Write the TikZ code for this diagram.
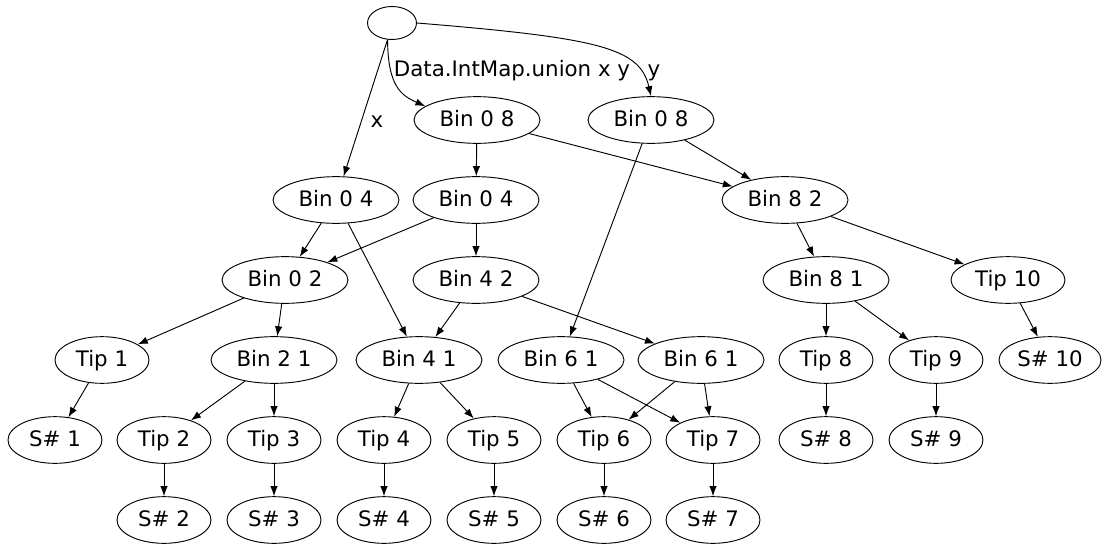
\documentclass[tikz,border=0pt]{standalone}
\usepackage{fontspec}
\setmainfont{DejaVu Sans}
\usetikzlibrary{shapes,arrows.meta}

\begin{document}
\begin{tikzpicture}[x=0.75pt,y=-0.75pt,font=\fontsize{16}{19}\selectfont,
        every node/.style={inner sep=0pt,text height=12pt,text depth=3pt},
        binnode/.style={draw,ellipse,line width=0.7pt,minimum width=94.5pt,minimum height=35pt},
        tipnode/.style={draw,ellipse,line width=0.7pt,minimum width=70.5pt,minimum height=35pt},
        link/.style={-{Latex[length=7.5pt,width=5.5pt]},line width=0.7pt}]
        \useasboundingbox (0,0) rectangle (1103,543);
        \node[draw,ellipse,line width=0.7pt,minimum width=36.75pt,minimum height=24.75pt] (root) at (392,23) {};
        \node[binnode] (a08) at (477,120) {Bin 0 8};
        \node[binnode] (b08) at (651,120) {Bin 0 8};
        \node[binnode] (l04) at (336,200) {Bin 0 4};
        \node[binnode] (r04) at (476,200) {Bin 0 4};
        \node[binnode] (b82) at (785,200) {Bin 8 2};
        \node[binnode] (b02) at (285,280) {Bin 0 2};
        \node[binnode] (b42) at (476,280) {Bin 4 2};
        \node[binnode] (b81) at (826,280) {Bin 8 1};
        \node[tipnode,minimum width=85.5pt] (t10) at (1008,280) {Tip 10};
        \node[tipnode] (t1) at (102,360) {Tip 1};
        \node[binnode] (b21) at (274,360) {Bin 2 1};
        \node[binnode] (b41) at (419,360) {Bin 4 1};
        \node[binnode] (b61l) at (561,360) {Bin 6 1};
        \node[binnode] (b61r) at (701,360) {Bin 6 1};
        \node[tipnode] (t8) at (826,360) {Tip 8};
        \node[tipnode] (t9) at (936,360) {Tip 9};
        \node[tipnode,minimum width=76.5pt] (s10) at (1050,360) {S\# 10};
        \node[tipnode] (s1) at (55,440) {S\# 1};
        \foreach \n/\x in {2/164, 3/274, 4/384, 5/494, 6/604, 7/713}
        {
            \node[tipnode] (t\n) at (\x,440) {Tip \n};
            \node[tipnode] (s\n) at (\x,520) {S\# \n};
            \draw[link] (t\n) -- (s\n);
        }
        \node[tipnode] (s8) at (826,440) {S\# 8};
        \node[tipnode] (s9) at (936,440) {S\# 9};
        \node (lx) at (377,121) {x};
        \node (lunion) at (512,70) {Data.IntMap.union x y};
        \node (ly) at (654,70) {y};
        \draw[link] (root.255) -- (l04);
        \draw[link] (root.255) .. controls (388,85) and (400,95) .. (a08.165);
        \draw[link] (root.east) .. controls (600,38) and (640,48) .. (b08.north);
        \foreach \a/\b in {a08/r04, a08/b82, b08/b82, b08/b61l, l04/b02, l04/b41,
            r04/b02, r04/b42, b82/b81, b82/t10, b02/t1, b02/b21, b42/b41, b42/b61r,
            b81/t8, b81/t9, t10/s10, t1/s1, b21/t2, b21/t3, b41/t4, b41/t5,
            b61l/t6, b61l/t7, b61r/t6, b61r/t7, t8/s8, t9/s9}
        \draw[link] (\a) -- (\b);
    \end{tikzpicture}
\end{document}
